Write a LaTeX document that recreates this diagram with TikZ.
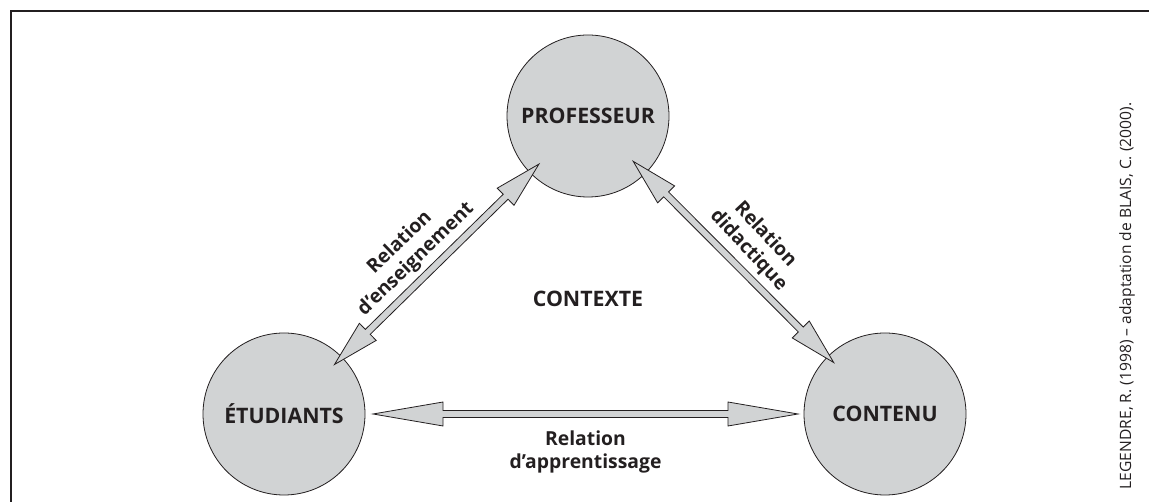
\documentclass[tikz,border=0pt]{standalone}
\usepackage{fontspec}
\setmainfont{Open Sans}
\usepackage{tikz}
\usetikzlibrary{calc}

\definecolor{discgray}{RGB}{209,211,212}
\definecolor{inkgray}{RGB}{35,31,32}

\tikzset{
  pole/.style={circle, draw=inkgray, line width=0.6pt, fill=discgray,
    minimum size=121.5pt, inner sep=0pt, text=inkgray,
    font=\bfseries\fontsize{16}{19}\selectfont},
  relbody/.style={draw=inkgray, line width=0.6pt, fill=discgray, line join=miter},
  rellabel/.style={align=center, inner sep=0pt, text=inkgray,
    font=\bfseries\fontsize{14.5}{17.3}\selectfont}
}

% big double-headed arrow: #1 head length, #2 and #3 the two tips
\newcommand\relarrow[3]{%
  \path let \p1=(#2), \p2=(#3) in \pgfextra{%
    \pgfmathsetmacro\relang{atan2(\y2-\y1,\x2-\x1)}%
    \pgfmathsetmacro\rellen{veclen(\x2-\x1,\y2-\y1)}%
    \xdef\relang{\relang}\xdef\rellen{\rellen}%
    \xdef\relx{\x1}\xdef\rely{\y1}};
  \draw[relbody, shift={(\relx,\rely)}, rotate=\relang]
    (0pt,0pt) -- (#1,9pt) -- (#1,2.6pt) -- (\rellen pt-#1,2.6pt)
    -- (\rellen pt-#1,9pt) -- (\rellen pt,0pt) -- (\rellen pt-#1,-9pt)
    -- (\rellen pt-#1,-2.6pt) -- (#1,-2.6pt) -- (#1,-9pt) -- cycle;
}

\begin{document}
\begin{tikzpicture}[x=0.75pt, y=0.75pt]
  \useasboundingbox (0,0) rectangle (1149,502);
  % frame
  \draw[inkgray, line width=1.1pt] (11,0) -- (11,491) -- (1149,491);

  \node[pole] (prof) at (588,386) {PROFESSEUR};
  \node[pole] (etu) at (284,88) {ÉTUDIANTS};
  \node[pole] (cont) at (885,88) {CONTENU};

  % arrow tips
  \coordinate (ep) at ($(etu.center)!53pt!(prof.center)$);
  \coordinate (pe) at ($(prof.center)!51.5pt!(etu.center)$);
  \coordinate (pc) at ($(prof.center)!48pt!(cont.center)$);
  \coordinate (cp) at ($(cont.center)!54.5pt!(prof.center)$);
  \coordinate (ec) at ($(etu.center)!66.75pt!(cont.center)$);
  \coordinate (ce) at ($(cont.center)!65.25pt!(etu.center)$);

  \relarrow{35pt}{ep}{pe}
  \relarrow{35pt}{pc}{cp}
  \relarrow{52.5pt}{ec}{ce}

  \node[rellabel, rotate=44] (lens) at ($(ep)!0.46!(pe)!22pt!90:(pe)$)
    {Relation\\d'enseignement};
  \node[rellabel, rotate=-47] (ldid) at ($(pc)!0.51!(cp)!22.5pt!90:(cp)$)
    {Relation\\didactique};
  \node[rellabel] (lapp) at ($(ec)!0.5!(ce)+(0,-38)$)
    {Relation\\d'apprentissage};

  \node[pole, draw=none, fill=none, minimum size=0pt] (ctx) at (588,203) {CONTEXTE};

  \node[text=inkgray, rotate=90, inner sep=0pt, font=\fontsize{11.7}{14}\selectfont]
    (src) at (1127,206) {LEGENDRE, R. (1998) – adaptation de BLAIS, C. (2000).};
\end{tikzpicture}
\end{document}
